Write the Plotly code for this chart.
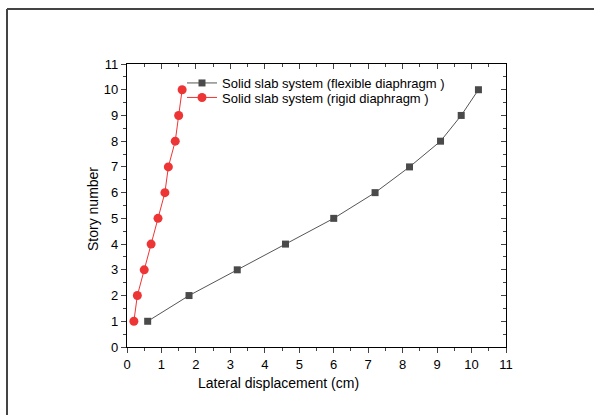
import plotly.graph_objects as go

stories = [1, 2, 3, 4, 5, 6, 7, 8, 9, 10]
flexible = [0.6, 1.8, 3.2, 4.6, 6.0, 7.2, 8.2, 9.1, 9.7, 10.2]
rigid = [0.2, 0.3, 0.5, 0.7, 0.9, 1.1, 1.2, 1.4, 1.5, 1.6]
name_flex = "Solid slab system (flexible diaphragm )"
name_rigid = "Solid slab system (rigid diaphragm )"
x_title = "Lateral displacement (cm)"
y_title = "Story number"
x_ticks = list(range(0, 12))
y_ticks = list(range(0, 12))

W, H = 594, 415
L, R, T, B = 127, 88, 64, 68
pw, ph = W - L - R, H - T - B


def px(xp):
    return (xp - L) / pw


def py(yp):
    return (T + ph - yp) / ph


fig = go.Figure()
fig.add_trace(go.Scatter(x=flexible, y=stories, name=name_flex, mode="lines+markers",
                         legend="legend",
                         line=dict(color="#555555", width=1),
                         marker=dict(symbol="square", size=7, color="#4a4a4a")))
fig.add_trace(go.Scatter(x=rigid, y=stories, name=name_rigid, mode="lines+markers",
                         legend="legend2",
                         line=dict(color="#ee3535", width=1),
                         marker=dict(symbol="circle", size=9, color="#ee3535")))
# dummy trace for mirrored inward ticks on top/right
fig.add_trace(go.Scatter(x=[None], y=[None], xaxis="x2", yaxis="y2", showlegend=False,
                         hoverinfo="skip"))

axis_common = dict(range=[0, 11], showgrid=False, zeroline=False, linecolor="black",
                   linewidth=1.3)
leg_common = dict(xanchor="left", yanchor="middle", bgcolor="rgba(0,0,0,0)",
                  font=dict(size=13), borderwidth=0)
fig.update_layout(
    width=W, height=H, margin=dict(l=L, r=R, t=T, b=B),
    paper_bgcolor="white", plot_bgcolor="white",
    font=dict(family="Liberation Sans, Arial, sans-serif", color="black", size=13),
    xaxis=dict(**axis_common, tickvals=x_ticks, ticks="outside", ticklen=5, tickwidth=1,
               minor=dict(ticks="outside", ticklen=3, dtick=0.5, tickwidth=1),
               tickfont=dict(size=13)),
    yaxis=dict(**axis_common, tickvals=y_ticks, ticks="outside", ticklen=5, tickwidth=1,
               minor=dict(ticks="outside", ticklen=3, dtick=0.5, tickwidth=1),
               tickfont=dict(size=13)),
    xaxis2=dict(**axis_common, overlaying="x", side="top", tickvals=x_ticks, ticks="inside",
                ticklen=5, showticklabels=False,
                minor=dict(ticks="inside", ticklen=3, dtick=0.5)),
    yaxis2=dict(**axis_common, overlaying="y", side="right", tickvals=y_ticks, ticks="inside",
                ticklen=5, showticklabels=False,
                minor=dict(ticks="inside", ticklen=3, dtick=0.5)),
    legend=dict(x=px(182), y=py(83), **leg_common),
    legend2=dict(x=px(182), y=py(97.5), **leg_common),
)

fig.add_annotation(text=x_title, xref="paper", yref="paper", x=px(278.5), y=py(383),
                   xanchor="center", yanchor="middle", showarrow=False, font=dict(size=14))
fig.add_annotation(text=y_title, xref="paper", yref="paper", x=px(93), y=py(209),
                   xanchor="center", yanchor="middle", showarrow=False, textangle=-90,
                   font=dict(size=14))

# outer frame (top and left edges visible in the reference)
fig.add_shape(type="line", xref="paper", yref="paper", x0=px(7), x1=px(W), y0=py(9), y1=py(9),
              line=dict(color="#444444", width=2))
fig.add_shape(type="line", xref="paper", yref="paper", x0=px(7), x1=px(7), y0=py(9), y1=py(H),
              line=dict(color="#444444", width=2))

fig.write_html("out.html")
